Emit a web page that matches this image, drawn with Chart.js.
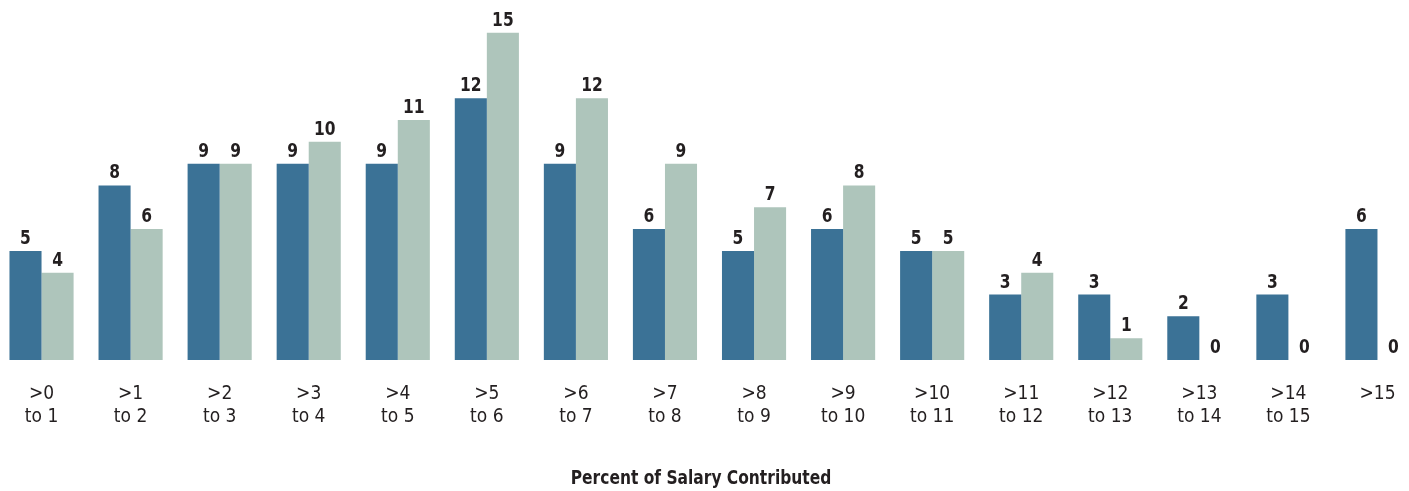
<!DOCTYPE html>
<html>
<head>
<meta charset="utf-8">
<script src="https://cdn.jsdelivr.net/npm/chart.js@4/dist/chart.umd.min.js"></script>
<style>
  html, body { margin: 0; padding: 0; background: #fff; overflow: hidden; }
  #wrap { position: relative; width: 1409px; height: 491px; }
  #box { position: absolute; left: -3px; top: 0; width: 1425px; height: 491px; }
  #titulo {
    position: absolute; left: 0; top: 465px; width: 1402px; text-align: center;
    font-family: "Liberation Sans Narrow", "DejaVu Sans Condensed", sans-serif;
    font-weight: bold; font-size: 20px; color: #231f20;
    transform: scaleX(0.86); transform-origin: 701px 0;
  }
</style>
</head>
<body>
<div id="wrap">
  <div id="box"><canvas id="grafico"></canvas></div>
  <div id="titulo">Percent of Salary Contributed</div>
</div>
<script>
// ===============================
// DATOS
// ===============================
const categorias = [
  [">0", "to 1"], [">1", "to 2"], [">2", "to 3"], [">3", "to 4"],
  [">4", "to 5"], [">5", "to 6"], [">6", "to 7"], [">7", "to 8"],
  [">8", "to 9"], [">9", "to 10"], [">10", "to 11"], [">11", "to 12"],
  [">12", "to 13"], [">13", "to 14"], [">14", "to 15"], [">15"]
];
const serieAzul = [5, 8, 9, 9, 9, 12, 9, 6, 5, 6, 5, 3, 3, 2, 3, 6];
const serieVerde = [4, 6, 9, 10, 11, 15, 12, 9, 7, 8, 5, 4, 1, 0, 0, 0];

const FUENTE = '"Liberation Sans Narrow", "DejaVu Sans Condensed", sans-serif';
const TEXTO = "#231f20";

// ===============================
// ETIQUETAS DE VALOR (un poco estrechas, como en el original)
// ===============================
const etiquetasValor = {
  id: "etiquetasValor",
  afterDatasetsDraw(chart) {
    const ctx = chart.ctx;
    ctx.save();
    ctx.font = "bold 20px " + FUENTE;
    ctx.fillStyle = TEXTO;
    ctx.textAlign = "center";
    ctx.textBaseline = "alphabetic";
    chart.data.datasets.forEach((ds, i) => {
      chart.getDatasetMeta(i).data.forEach((bar, j) => {
        ctx.save();
        ctx.translate(bar.x, bar.y - 7);
        ctx.scale(0.86, 1);
        ctx.fillText(String(ds.data[j]), 0, 0);
        ctx.restore();
      });
    });
    ctx.restore();
  }
};

// ===============================
// GRAFICO
// ===============================
const ctx = document.getElementById("grafico").getContext("2d");
new Chart(ctx, {
  type: "bar",
  data: {
    labels: categorias,
    datasets: [
      { data: serieAzul, backgroundColor: "#3b7296", categoryPercentage: 0.72, barPercentage: 1 },
      { data: serieVerde, backgroundColor: "#aec5bb", categoryPercentage: 0.72, barPercentage: 1 }
    ]
  },
  options: {
    responsive: true,
    maintainAspectRatio: false,
    animation: false,
    layout: { padding: 0 },
    plugins: { legend: { display: false }, tooltip: { enabled: false } },
    scales: {
      y: { display: false, min: 0, max: 16.5 },
      x: {
        grid: { display: false, drawTicks: false },
        border: { display: false },
        ticks: {
          padding: 23,
          color: TEXTO,
          font: { family: FUENTE, size: 19, lineHeight: 1.2 },
          maxRotation: 0,
          autoSkip: false
        },
        afterFit(scale) { scale.height = 131; }
      }
    }
  },
  plugins: [etiquetasValor]
});
</script>
</body>
</html>
